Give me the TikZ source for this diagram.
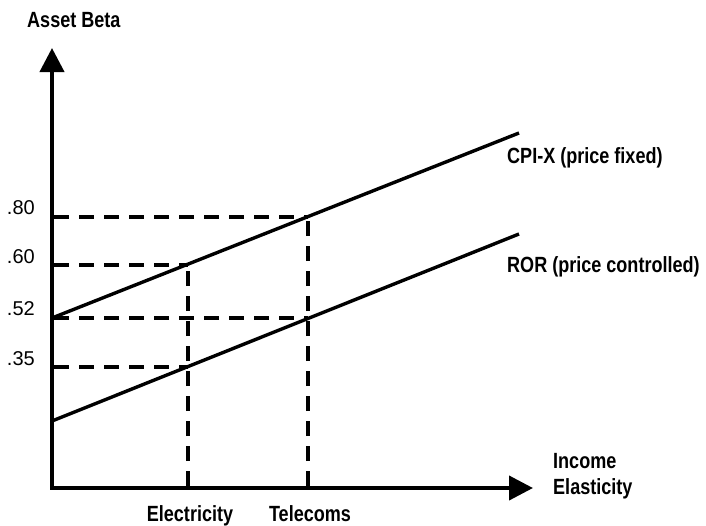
\documentclass[tikz,border=0pt]{standalone}
\usepackage{fontspec}
\setmainfont{Liberation Sans}[FakeStretch=0.82]
\newfontfamily\numfont{Liberation Sans}
\usetikzlibrary{arrows.meta}
\tikzset{
  axis/.style={line width=4pt, line join=miter, {Triangle[length=24pt,width=24pt]}-{Triangle[length=24pt,width=24pt]}},
  curve/.style={line width=3.4pt},
  guide/.style={line width=4pt, dash pattern=on 15pt off 10pt},
  lbl/.style={font=\fontsize{22}{26}\selectfont\bfseries, inner sep=0pt},
  num/.style={font=\numfont\fontsize{20}{24}\selectfont, inner sep=0pt, anchor=base east},
}
\begin{document}
\begin{tikzpicture}[x=1pt,y=-1pt]
\useasboundingbox (0,0) rectangle (706,525);
% axes
\coordinate (O) at (52,488);
\coordinate (ytip) at (52,48);
\coordinate (xtip) at (533,488);
\draw[axis] (ytip) -- (O) -- (xtip);
% lines
\coordinate (cpiS) at (52,318);
\coordinate (cpiE) at (519,133);
\coordinate (rorS) at (52,421);
\coordinate (rorE) at (519,234);
\draw[curve] (cpiS) -- (cpiE);
\draw[curve] (rorS) -- (rorE);
% intersection points
\coordinate (cE) at (188,265);
\coordinate (cT) at (308,217);
\coordinate (rE) at (188,367);
\coordinate (rT) at (308,318);
\coordinate (y80) at (54,217);
\coordinate (y60) at (54,265);
\coordinate (y52) at (54,318);
\coordinate (y35) at (54,367);
\coordinate (xE) at (188,486);
\coordinate (xT) at (308,486);
% guides
\draw[guide] (y80) -- (cT);
\draw[guide] (y60) -- (cE);
\draw[guide] (y52) -- (rT);
\draw[guide] (y35) -- (rE);
\draw[guide] (xE) -- (cE);
\draw[guide] (xT) -- (cT);
% labels
\node[lbl, anchor=base west] (ab) at (27,27.5) {Asset Beta};
\node[num] (n80) at (35,214) {.80};
\node[num] (n60) at (35,263) {.60};
\node[num] (n52) at (35,315) {.52};
\node[num] (n35) at (35,365) {.35};
\node[lbl, anchor=base] (el) at (190,521.5) {Electricity};
\node[lbl, anchor=base] (tel) at (310,521.5) {Telecoms};
\node[lbl, anchor=base west] (cpi) at (507,163) {CPI-X (price fixed)};
\node[lbl, anchor=base west] (ror) at (507,272) {ROR (price controlled)};
\node[lbl, anchor=base west] (inc) at (553,468) {Income};
\node[lbl, anchor=base west] (ela) at (553,494) {Elasticity};
\end{tikzpicture}
\end{document}
